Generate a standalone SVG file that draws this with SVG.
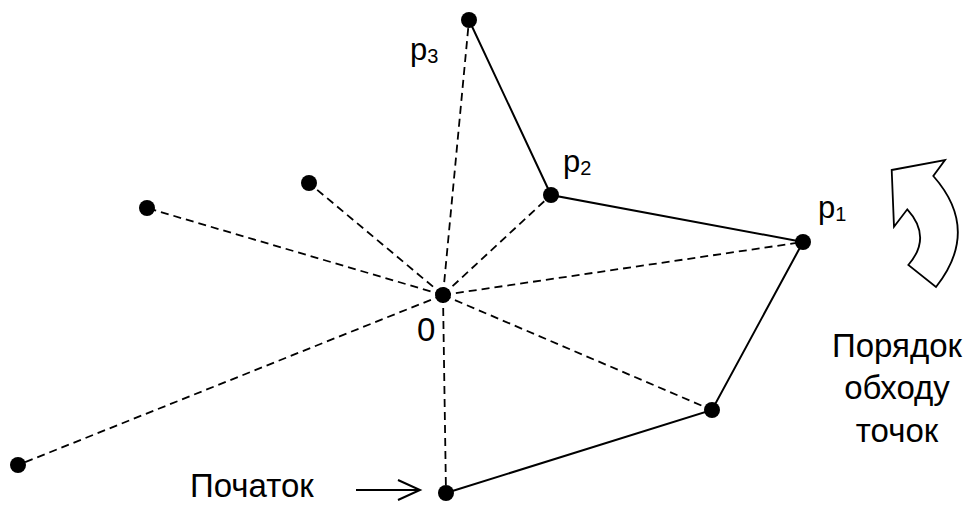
<svg xmlns="http://www.w3.org/2000/svg" width="972" height="506" viewBox="0 0 972 506">
<defs>
<style>
.dash{stroke:#000;stroke-width:1.8;stroke-dasharray:8 5;fill:none}
.solid{stroke:#000;stroke-width:2;fill:none}
.pt{fill:#000}
text{font-family:"Liberation Sans",Arial,sans-serif;font-size:33px;fill:#000}
.lbl{font-size:31px}
.sub{font-size:20px}
</style>
<marker id="open" markerWidth="26" markerHeight="24" refX="23" refY="12" orient="auto" markerUnits="userSpaceOnUse">
<path d="M1,2 L23,12 L1,22" fill="none" stroke="#000" stroke-width="2"/>
</marker>
</defs>
<rect width="972" height="506" fill="#fff"/>
<g id="connectors">
<line class="dash" x1="443" y1="295" x2="469" y2="20"/>
<line class="dash" x1="443" y1="295" x2="551" y2="195"/>
<line class="dash" x1="443" y1="295" x2="309" y2="183"/>
<line class="dash" x1="443" y1="295" x2="147" y2="208"/>
<line class="dash" x1="443" y1="295" x2="18" y2="465"/>
<line class="dash" x1="443" y1="295" x2="803" y2="242"/>
<line class="dash" x1="443" y1="295" x2="712" y2="410"/>
<line class="dash" x1="443" y1="295" x2="446" y2="493"/>
<polyline class="solid" points="446,493 712,410 803,242 551,195 469,20"/>
<line x1="356" y1="490" x2="420" y2="490" stroke="#000" stroke-width="2" marker-end="url(#open)"/>
</g>
<g id="node-O"><circle class="pt" cx="443" cy="295" r="8"/><text x="417" y="341">0</text></g>
<g id="node-p3"><circle class="pt" cx="469" cy="20" r="8"/><text class="lbl" x="410" y="60">p<tspan class="sub" dy="3">3</tspan></text></g>
<g id="node-p2"><circle class="pt" cx="551" cy="195" r="8"/><text class="lbl" x="563" y="172">p<tspan class="sub" dy="3">2</tspan></text></g>
<g id="node-p1"><circle class="pt" cx="803" cy="242" r="8"/><text class="lbl" x="818" y="218">p<tspan class="sub" dy="3">1</tspan></text></g>
<g id="node-p0"><circle class="pt" cx="712" cy="410" r="8"/></g>
<g id="node-start"><circle class="pt" cx="446" cy="493" r="8"/><text x="190" y="497">Початок</text></g>
<g id="node-a"><circle class="pt" cx="309" cy="183" r="8"/></g>
<g id="node-b"><circle class="pt" cx="147" cy="208" r="8"/></g>
<g id="node-c"><circle class="pt" cx="18" cy="465" r="8"/></g>
<g id="rotation">
<path d="M891.7,170 L945,160 L933.3,176 Q981,230 936,287 L908.3,265 Q932.5,237 907.3,209.3 L894,226.7 Z" fill="#fff" stroke="#000" stroke-width="1.8" stroke-linejoin="miter"/>
<text x="897" y="357" text-anchor="middle">Порядок</text>
<text x="897" y="399" text-anchor="middle">обходу</text>
<text x="897" y="442" text-anchor="middle">точок</text>
</g>
</svg>
